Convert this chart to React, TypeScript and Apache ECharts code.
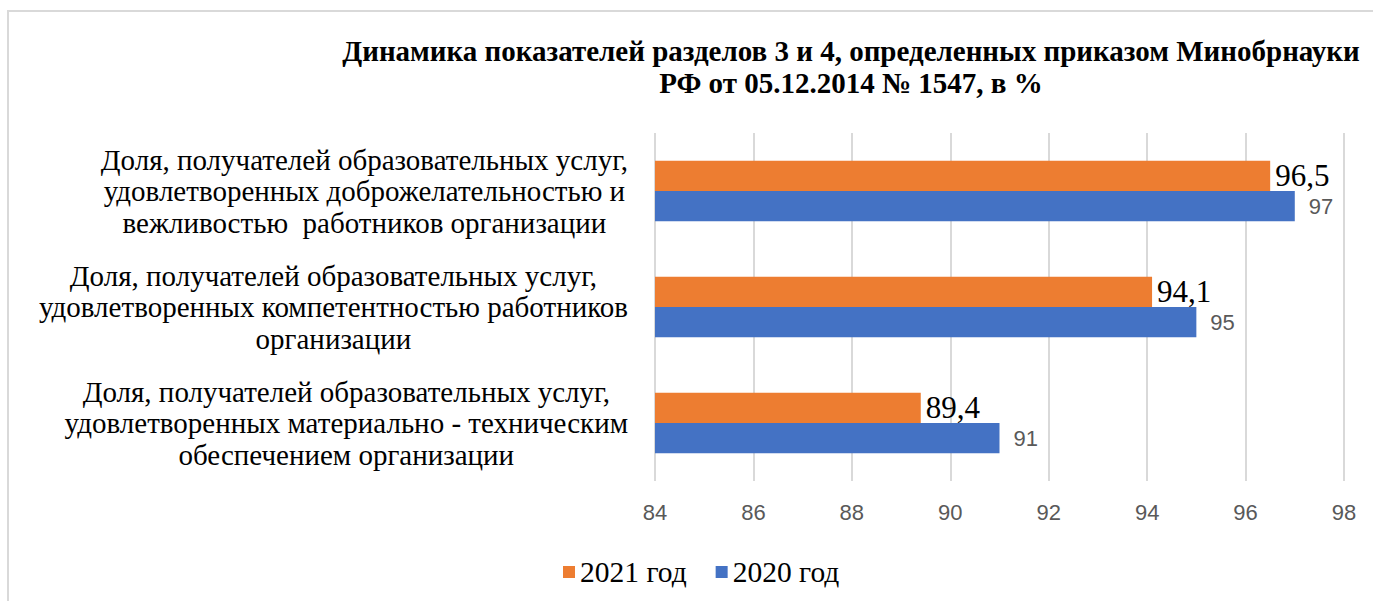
import React, { useEffect, useRef } from "react";
import * as echarts from "echarts";

const categories = [
  "Доля, получателей образовательных услуг,\nудовлетворенных доброжелательностью и\nвежливостью  работников организации",
  "Доля, получателей образовательных услуг,\nудовлетворенных компетентностью работников\nорганизации",
  "Доля, получателей образовательных услуг,\nудовлетворенных материально - техническим\nобеспечением организации",
];
const values2021 = [96.5, 94.1, 89.4];
const values2020 = [97, 95, 91];
const seriesNames = ["2021 год", "2020 год"];
const titleLines = [
  "Динамика показателей разделов 3 и 4, определенных приказом Минобрнауки",
  "РФ от 05.12.2014 № 1547, в %",
];
const axisMin = 84;
const axisMax = 98;
const axisStep = 2;

const fmt = (v: number) => String(v).replace(".", ",");

export default function App() {
  const ref = useRef<HTMLDivElement>(null);
  useEffect(() => {
    if (!ref.current) return;
    const chart = echarts.init(ref.current, undefined, { renderer: "svg" });
    const serif = "Liberation Serif";
    const sans = "Liberation Sans";
    chart.setOption({
      animation: false,
      backgroundColor: "#ffffff",
      graphic: [
        {
          type: "rect",
          shape: { x: 8, y: 11, width: 1420, height: 640 },
          style: { fill: "none", stroke: "#d9d9d9", lineWidth: 2 },
          silent: true,
        },
        {
          type: "text",
          x: 851,
          y: 35,
          style: {
            text: titleLines.join("\n"),
            fontFamily: serif,
            fontSize: 29,
            fontWeight: "bold",
            fill: "#000000",
            textAlign: "center",
            textVerticalAlign: "top",
            lineHeight: 32,
          },
        },
      ],
      legend: {
        data: seriesNames,
        left: 558,
        top: 552,
        icon: "rect",
        itemWidth: 12,
        itemHeight: 12,
        itemGap: 29,
        textStyle: { fontFamily: serif, fontSize: 29.5, color: "#000000" },
      },
      grid: {
        left: 655,
        right: 29,
        top: 133,
        bottom: 120,
        outerBoundsMode: "none",
      },
      xAxis: {
        type: "value",
        min: axisMin,
        max: axisMax,
        interval: axisStep,
        axisLine: { show: false },
        axisTick: { show: false },
        splitLine: { lineStyle: { color: "#d9d9d9", width: 2 } },
        axisLabel: { color: "#595959", fontSize: 22, fontFamily: sans, margin: 20 },
      },
      yAxis: {
        type: "category",
        data: categories,
        inverse: true,
        axisLine: { show: false },
        axisTick: { show: false },
        axisLabel: {
          margin: 27,
          align: "right",
          fontFamily: serif,
          fontSize: 29,
          formatter: (v: string) => v.split("\n").map((l) => `{c|${l}}`).join("\n"),
          rich: {
            c: {
              fontFamily: serif,
              fontSize: 29,
              lineHeight: 31.5,
              color: "#000000",
              align: "center",
            },
          },
        },
      },
      series: [
        {
          name: seriesNames[0],
          type: "bar",
          data: values2021,
          barGap: "0%",
          barCategoryGap: "48%",
          itemStyle: { color: "#ED7D31" },
          label: {
            show: true,
            position: "right",
            distance: 5,
            color: "#000000",
            fontFamily: serif,
            fontSize: 31,
            formatter: (p: any) => fmt(p.value),
          },
        },
        {
          name: seriesNames[1],
          type: "bar",
          data: values2020,
          barGap: "0%",
          barCategoryGap: "48%",
          itemStyle: { color: "#4472C4" },
          label: {
            show: true,
            position: "right",
            distance: 14,
            color: "#595959",
            fontFamily: sans,
            fontSize: 22,
            formatter: (p: any) => fmt(p.value),
          },
        },
      ],
    });
    return () => chart.dispose();
  }, []);
  return (
    <div
      ref={ref}
      style={{ position: "absolute", left: 0, top: 0, width: 1373, height: 601 }}
    />
  );
}
